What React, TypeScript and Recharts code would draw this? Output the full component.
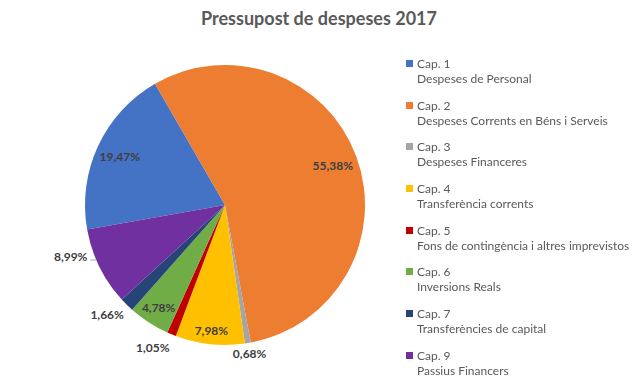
import { PieChart, Pie, Cell } from 'recharts'

const chapters = ['Cap. 1', 'Cap. 2', 'Cap. 3', 'Cap. 4', 'Cap. 5', 'Cap. 6', 'Cap. 7', 'Cap. 9']
const descriptions = [
  'Despeses de Personal',
  'Despeses Corrents en Béns i Serveis',
  'Despeses Financeres',
  'Transferència corrents',
  'Fons de contingència i altres imprevistos',
  'Inversions Reals',
  'Transferències de capital',
  'Passius Financers',
]
const shares = [19.47, 55.38, 0.68, 7.98, 1.05, 4.78, 1.66, 8.99]

const colors = ['#4472C4', '#ED7D31', '#A5A5A5', '#FFC000', '#C00000', '#70AD47', '#264478', '#7030A0']

const data = chapters.map((c, i) => ({ name: c, desc: descriptions[i], value: shares[i] }))

// label distance from centre and angle nudge (deg), Excel "best fit" look
const placement: [number, number][] = [
  [116, 0],
  [115, 0],
  [151, 0],
  [126, 0],
  [160, -4.4],
  [122, 0],
  [161, -2.5],
  [164, -7.8],
]

const RAD = Math.PI / 180
const FONT = 'Lato, "Open Sans", sans-serif'

const renderLabel = (props: any) => {
  const { cx, cy, midAngle, outerRadius, index, value } = props
  const [r, shift] = placement[index]
  const a = midAngle + shift
  const x = cx + r * Math.cos(-a * RAD)
  const y = cy + r * Math.sin(-a * RAD)
  const text = `${Number(value).toFixed(2).replace('.', ',')}%`
  const leader = index === 7
  const tx = leader ? x + 18 : x
  let line = null
  if (leader) {
    const ly = y + 3
    const dy = ly - cy
    const edge = cx - Math.sqrt(outerRadius * outerRadius - dy * dy)
    line = <line x1={tx + 3} y1={ly} x2={edge} y2={ly} stroke="#A6A6A6" strokeWidth={1} />
  }
  return (
    <g>
      {line}
      <text
        x={tx}
        y={y}
        textAnchor={leader ? 'end' : 'middle'}
        dominantBaseline="central"
        fill="#404040"
        fontSize={12}
        fontWeight={700}
        fontFamily={FONT}
      >
        {text}
      </text>
    </g>
  )
}

export default function App() {
  return (
    <div style={{ position: 'fixed', left: 0, top: 0, width: 638, height: 384, background: '#fff' }}>
      <div
        style={{
          position: 'absolute',
          top: 7,
          left: 0,
          width: 638,
          textAlign: 'center',
          fontFamily: FONT,
          fontWeight: 700,
          fontSize: 18,
          color: '#595959',
        }}
      >
        Pressupost de despeses 2017
      </div>
      <PieChart width={638} height={384} margin={{ top: 0, right: 0, bottom: 0, left: 0 }}>
        <Pie
          data={data}
          dataKey="value"
          nameKey="name"
          cx={225}
          cy={205}
          outerRadius={140}
          startAngle={190.1}
          endAngle={-169.9}
          stroke="none"
          label={renderLabel}
          labelLine={false}
          isAnimationActive={false}
        >
          {data.map((d, i) => (
            <Cell key={d.name} fill={colors[i]} />
          ))}
        </Pie>
      </PieChart>
      <div
        style={{
          position: 'absolute',
          left: 406,
          top: 56,
          fontFamily: FONT,
          fontSize: 12,
          color: '#595959',
          lineHeight: '15px',
        }}
      >
        {data.map((d, i) => (
          <div key={d.name} style={{ height: 41.7 }}>
            <div style={{ display: 'flex', alignItems: 'center' }}>
              <span style={{ width: 7, height: 7, background: colors[i], marginRight: 4, display: 'inline-block' }} />
              <span>{d.name}</span>
            </div>
            <div style={{ paddingLeft: 11 }}>{d.desc}</div>
          </div>
        ))}
      </div>
    </div>
  )
}
